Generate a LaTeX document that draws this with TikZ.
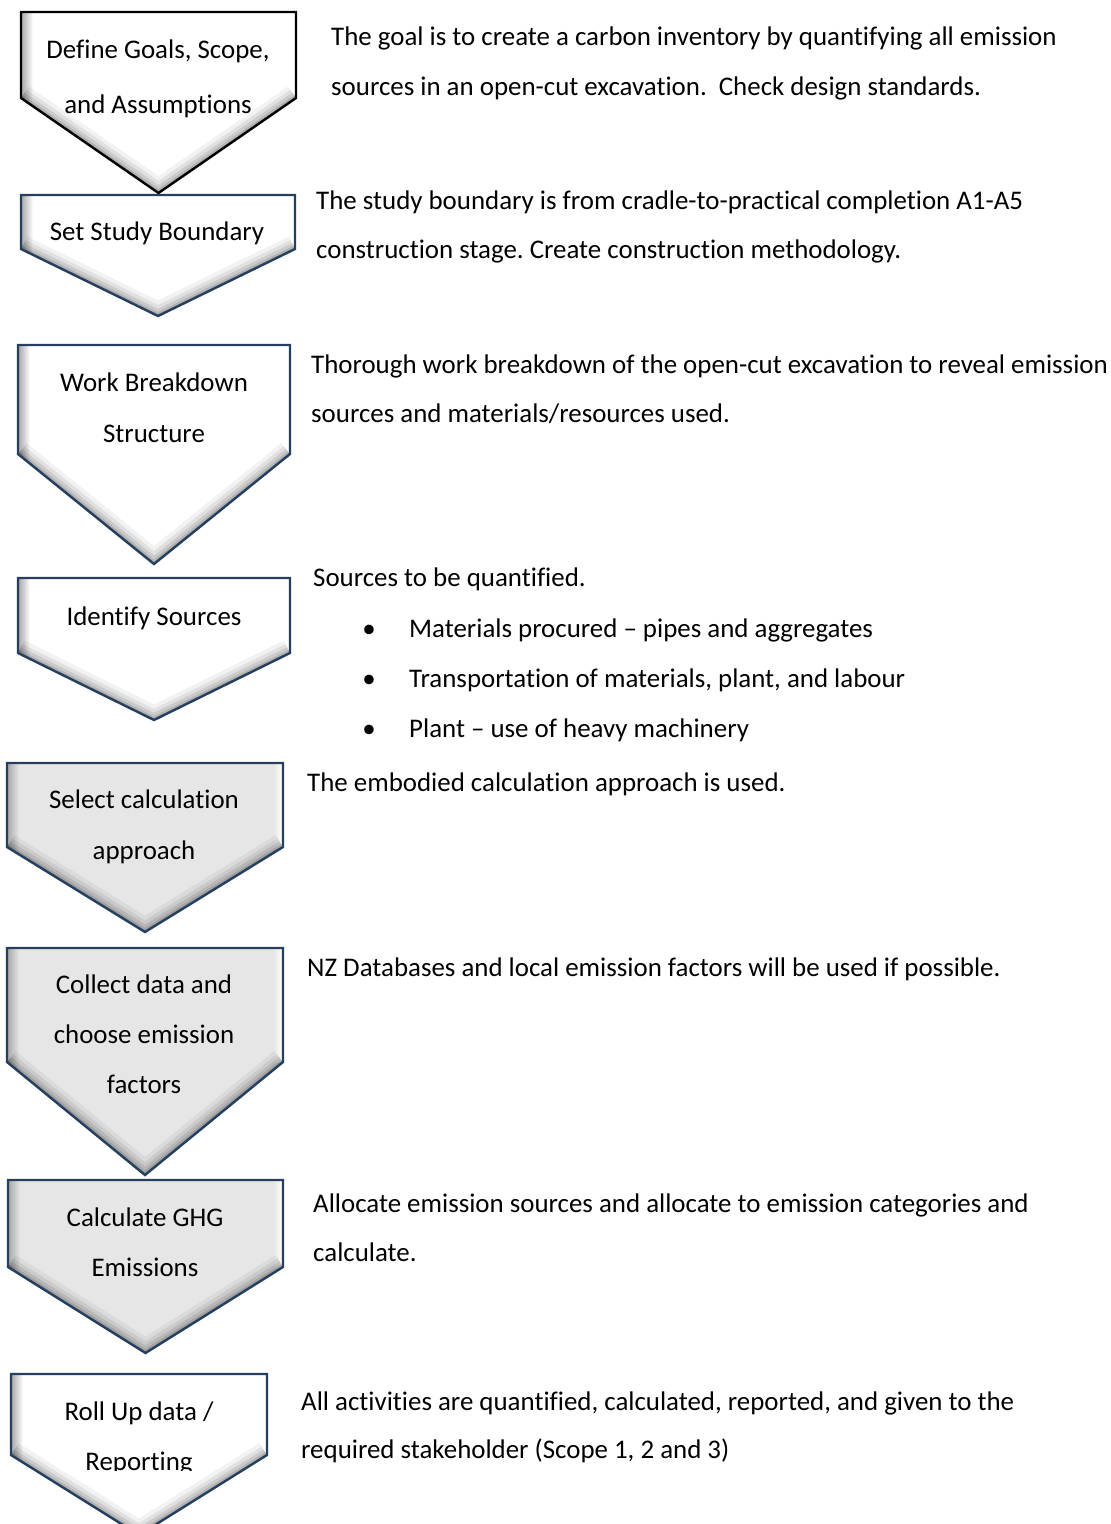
\documentclass[tikz,border=0pt]{standalone}
\usepackage{fontspec}
\setmainfont[Ligatures=NoCommon]{Carlito}
\definecolor{navy}{HTML}{243F60}
\definecolor{lgray}{HTML}{E6E6E6}
\frenchspacing
\newcommand{\chevshape}[8]{%
  \pgfmathsetmacro{\mx}{(#1+#2)/2}%
  \begin{scope}
    \clip (#1,#3) -- (#2,#3) -- (#2,#4) -- (\mx,#5) -- (#1,#4) -- cycle;
    \fill[#6] (#1-5,#3-5) rectangle (#2+5,#5+5);
    \shade[left color=black!35, right color=#6] (#1,#3) rectangle (#1+12,#4+12);
    \shade[left color=#6, right color=#8] (#2-10,#3) rectangle (#2,#4);
    \foreach \w/\o in {28/0.05,20/0.07,13/0.09,7/0.11,3/0.13}
      \draw[black,opacity=\o,line width=\w pt] (#1,#4) -- (\mx,#5) -- (#2,#4);
  \end{scope}
  \draw[#7, line width=2.4pt, line join=miter] (#1,#3) -- (#2,#3) -- (#2,#4) -- (\mx,#5) -- (#1,#4) -- cycle;
}
\begin{document}
\begin{tikzpicture}[x=1pt,y=-1pt,
  txt/.style={anchor=base west, inner sep=0pt, font=\fontsize{26.9}{30}\selectfont, text=black},
  lbl/.style={anchor=base, inner sep=0pt, font=\fontsize{26.9}{30}\selectfont, text=black},
  bul/.style={anchor=base, inner sep=0pt, font=\fontsize{26.9}{30}\selectfont, text=black}]
\useasboundingbox[fill=white] (0,0) rectangle (1111,1524);

% chevrons
\chevshape{21}{296}{12}{98}{193}{white}{black}{white}
\chevshape{21}{295}{195}{249}{316}{white}{navy}{white}
\chevshape{18}{290}{345}{454}{564}{white}{navy}{white}
\chevshape{18}{290}{578}{653}{720}{white}{navy}{white}
\chevshape{7}{283}{763}{847}{932}{lgray}{navy}{white}
\chevshape{7}{283}{948}{1062}{1175}{lgray}{navy}{white}
\chevshape{8}{283}{1180}{1267}{1353}{lgray}{navy}{white}
\chevshape{11}{267}{1374}{1455}{1535}{white}{navy}{white}

% chevron labels
\node[lbl] (l1a) at (158,58) {Define Goals, Scope,};
\node[lbl] (l1b) at (158,113) {and Assumptions};
\node[lbl] (l2a) at (157,240) {Set Study Boundary};
\node[lbl] (l3a) at (154,391) {Work Breakdown};
\node[lbl] (l3b) at (154,442) {Structure};
\node[lbl] (l4a) at (154,625) {Identify Sources};
\node[lbl] (l5a) at (144,808) {Select calculation};
\node[lbl] (l5b) at (144,859) {approach};
\node[lbl] (l6a) at (144,993) {Collect data and};
\node[lbl] (l6b) at (144,1043) {choose emission};
\node[lbl] (l6c) at (144,1093) {factors};
\node[lbl] (l7a) at (145,1226) {Calculate GHG};
\node[lbl] (l7b) at (145,1276) {Emissions};
\node[lbl] (l8a) at (139,1420) {Roll Up data /};
\begin{scope}
  \clip (0,1380) rectangle (300,1470);
  \node[lbl] (l8b) at (139,1470) {Reporting};
\end{scope}

% descriptions
\node[txt] (d1a) at (331,45) {The goal is to create a carbon inventory by quantifying all emission};
\node[txt] (d1b) at (331,95) {sources in an open-cut excavation.\ \ Check design standards.};
\node[txt] (d2a) at (316,209) {The study boundary is from cradle-to-practical completion A1-A5};
\node[txt] (d2b) at (316,258) {construction stage. Create construction methodology.};
\node[txt] (d3a) at (311,373) {Thorough work breakdown of the open-cut excavation to reveal emission};
\node[txt] (d3b) at (311,422) {sources and materials/resources used.};
\node[txt] (d4a) at (313,586) {Sources to be quantified.};
\node[bul] (b1) at (369,637) {•};
\node[bul] (b2) at (369,687) {•};
\node[bul] (b3) at (369,737) {•};
\node[txt] (d4b) at (409,637) {Materials procured – pipes and aggregates};
\node[txt] (d4c) at (409,687) {Transportation of materials, plant, and labour};
\node[txt] (d4d) at (409,737) {Plant – use of heavy machinery};
\node[txt] (d5a) at (307,791) {The embodied calculation approach is used.};
\node[txt] (d6a) at (307,976) {NZ Databases and local emission factors will be used if possible.};
\node[txt] (d7a) at (313,1212) {Allocate emission sources and allocate to emission categories and};
\node[txt] (d7b) at (313,1261) {calculate.};
\node[txt] (d8a) at (301,1410) {All activities are quantified, calculated, reported, and given to the};
\node[txt] (d8b) at (301,1458) {required stakeholder (Scope 1, 2 and 3)};
\end{tikzpicture}
\end{document}
